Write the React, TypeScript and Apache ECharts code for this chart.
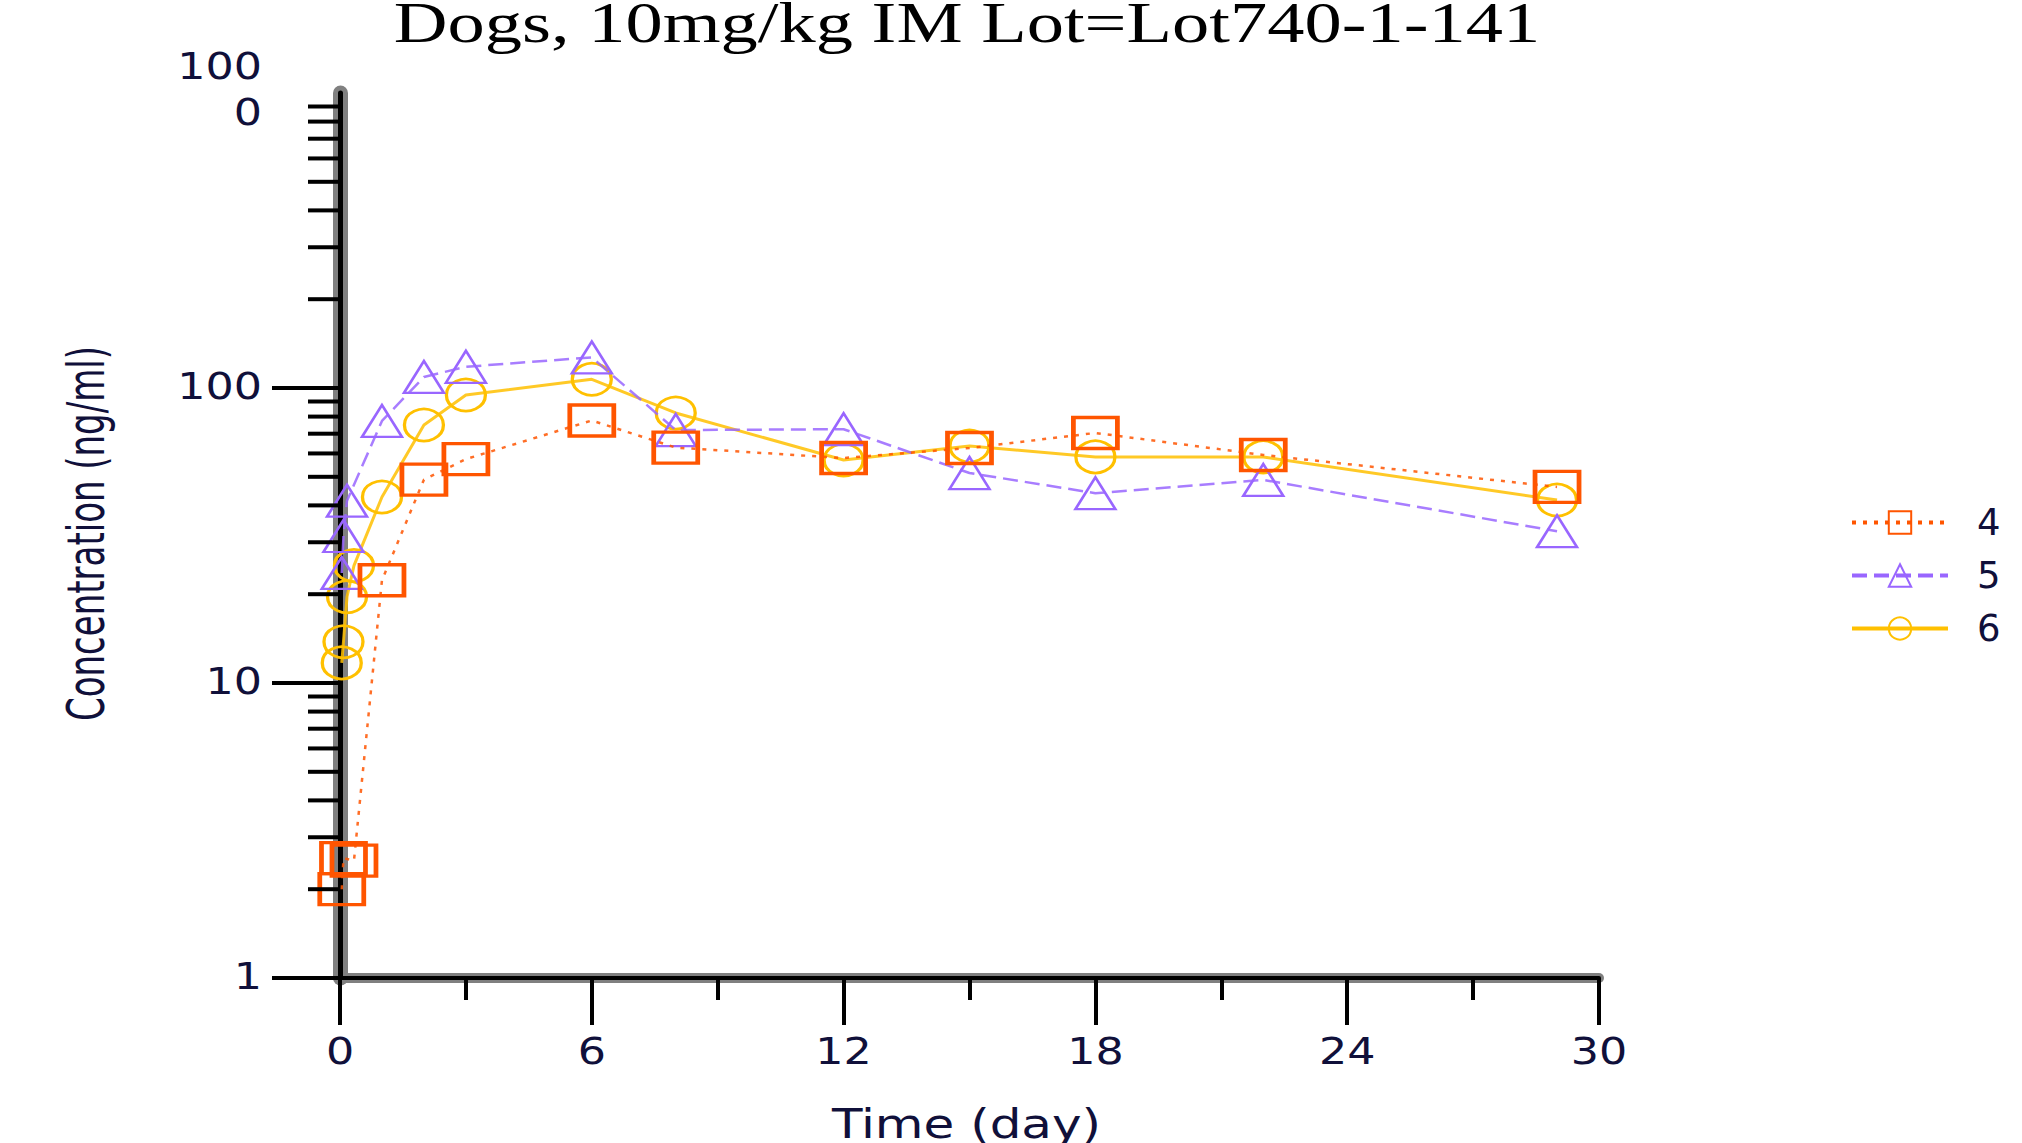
import React, { useEffect, useRef } from 'react';
import * as echarts from 'echarts';

const TITLE = 'Dogs, 10mg/kg IM Lot=Lot740-1-141';
const X_NAME = 'Time (day)';
const Y_NAME = 'Concentration (ng/ml)';

const X_MIN = 0;
const X_MAX = 30;
const X_INTERVAL = 6;
const X_TICK_LABELS = [0, 6, 12, 18, 24, 30];

const Y_MIN = 1;
const Y_MAX = 1000;
const Y_LABEL_VALUES = [1, 10, 100, 1000];
const Y_LABEL_TEXTS = ['1', '10', '100', '100\n0'];
const Y_MAJOR_TICKS = [1, 10, 100];
const Y_MINOR_TICKS = [2, 3, 4, 5, 6, 7, 8, 9, 20, 30, 40, 50, 60, 70, 80, 90, 200, 300, 400, 500, 600, 700, 800, 900];

const SERIES_NAMES = ['4', '5', '6'];
const SERIES_COLORS = ['#FF5500', '#9966FF', '#FFC000'];

const DOG4_DAYS = [0.042, 0.083, 0.333, 1, 2, 3, 6, 8, 12, 15, 18, 22, 29];
const DOG4_CONC = [2.0, 2.55, 2.5, 22.3, 48.9, 57.4, 77.6, 62.8, 57.9, 62.6, 70.4, 59.3, 46.2];

const DOG5_DAYS = [0.042, 0.083, 0.167, 1, 2, 3, 6, 8, 12, 15, 18, 22, 29];
const DOG5_CONC = [23.6, 31.5, 41.5, 77.3, 109, 118, 127, 72, 72.5, 51.5, 44, 48.8, 32.7];

const DOG6_DAYS = [0.042, 0.083, 0.167, 0.333, 1, 2, 3, 6, 8, 12, 15, 18, 22, 29];
const DOG6_CONC = [11.7, 13.8, 19.6, 25, 42.7, 74.9, 94.7, 107, 82.3, 57, 63.6, 58.4, 58.4, 41.7];

const TEXT_COLOR = '#10103a';
const SANS = '"DejaVu Sans", Verdana, sans-serif';
const SERIF = '"Liberation Serif", "Times New Roman", serif';

export default function App() {
  const ref = useRef<HTMLDivElement>(null);

  useEffect(() => {
    const el = ref.current;
    if (!el) return;
    const chart = echarts.init(el, null, { renderer: 'svg' });

    const makeSeries = (
      name: string,
      days: number[],
      conc: number[],
      color: string,
      symbol: string,
      size: number[],
      borderWidth: number,
      dash: any,
      lineWidth: number,
      z: number
    ) => ({
      name,
      type: 'line',
      xAxisIndex: 0,
      yAxisIndex: 0,
      data: days.map((d, i) => [d, conc[i]]),
      symbol,
      symbolSize: size,
      clip: false,
      z,
      itemStyle: { color: 'rgba(255,255,255,0)', borderColor: color, borderWidth },
      lineStyle: { color, width: lineWidth, type: dash, opacity: 0.85 },
      emphasis: { disabled: true },
    });

    chart.setOption({
      animation: false,
      backgroundColor: '#ffffff',
      grid: {
        left: 340,
        right: 423,
        top: 93,
        bottom: 165,
        containLabel: false,
        outerBoundsMode: 'none',
      },
      legend: {
        orient: 'vertical',
        left: 1845,
        top: 499,
        itemWidth: 96,
        itemHeight: 28,
        itemGap: 16,
        data: SERIES_NAMES,
        selectedMode: false,
        lineStyle: { width: 4, opacity: 1 },
        textStyle: { fontSize: 37, fontFamily: SANS, color: TEXT_COLOR, padding: [0, 0, 0, 24] },
      },
      xAxis: [
        {
          type: 'value',
          min: X_MIN,
          max: X_MAX,
          interval: X_INTERVAL,
          position: 'bottom',
          z: 0,
          axisLine: { onZero: false, lineStyle: { color: '#808080', width: 10 } },
          axisTick: { show: false },
          axisLabel: { show: false },
          splitLine: { show: false },
        },
        {
          type: 'value',
          min: X_MIN,
          max: X_MAX,
          interval: X_INTERVAL,
          position: 'bottom',
          z: 1,
          axisLine: { onZero: false, lineStyle: { color: '#000000', width: 4 } },
          axisTick: { show: true, length: 47, lineStyle: { color: '#000000', width: 4 } },
          minorTick: { show: true, splitNumber: 2, length: 22, lineStyle: { color: '#000000', width: 4 } },
          axisLabel: { show: false },
          splitLine: { show: false },
          minorSplitLine: { show: false },
        },
      ],
      yAxis: [
        {
          type: 'log',
          logBase: 10,
          min: Y_MIN,
          max: Y_MAX,
          position: 'left',
          z: 0,
          axisLine: { onZero: false, lineStyle: { color: '#808080', width: 15 } },
          axisTick: { show: false },
          axisLabel: { show: false },
          splitLine: { show: false },
        },
        {
          type: 'log',
          logBase: 10,
          min: Y_MIN,
          max: Y_MAX,
          position: 'left',
          z: 1,
          axisLine: { onZero: false, lineStyle: { color: '#000000', width: 5 } },
          axisTick: { show: false },
          axisLabel: { show: false },
          splitLine: { show: false },
        },
      ],
      series: [
        makeSeries(SERIES_NAMES[0], DOG4_DAYS, DOG4_CONC, SERIES_COLORS[0], 'rect', [44, 31], 4, [4, 7], 2.5, 4),
        makeSeries(SERIES_NAMES[1], DOG5_DAYS, DOG5_CONC, SERIES_COLORS[1], 'triangle', [40, 32], 2.5, [15, 7], 2.5, 3),
        makeSeries(SERIES_NAMES[2], DOG6_DAYS, DOG6_CONC, SERIES_COLORS[2], 'circle', [39, 32], 3, 'solid', 3, 2),
      ],
    });

    const toPx = (x: number, y: number) => chart.convertToPixel({ seriesIndex: 0 }, [x, y]) as number[];
    const origin = toPx(X_MIN, Y_MIN);
    const axisX = origin[0];
    const axisY = origin[1];
    const top = toPx(X_MIN, Y_MAX)[1];
    const right = toPx(X_MAX, Y_MIN)[0];

    const textStyle = (text: string, font: string, align: string, extra: any = {}) => ({
      text,
      font,
      fill: TEXT_COLOR,
      textAlign: align,
      align,
      textVerticalAlign: 'middle',
      verticalAlign: 'middle',
      ...extra,
    });

    const graphics: any[] = [];

    Y_MAJOR_TICKS.forEach((v) => {
      const y = toPx(X_MIN, v)[1];
      graphics.push({
        type: 'line',
        z: 5,
        shape: { x1: axisX - 68, y1: y, x2: axisX, y2: y },
        style: { stroke: '#000000', lineWidth: 4 },
      });
    });
    Y_MINOR_TICKS.forEach((v) => {
      const y = toPx(X_MIN, v)[1];
      graphics.push({
        type: 'line',
        z: 5,
        shape: { x1: axisX - 32, y1: y, x2: axisX, y2: y },
        style: { stroke: '#000000', lineWidth: 4 },
      });
    });

    Y_LABEL_VALUES.forEach((v, i) => {
      const y = toPx(X_MIN, v)[1];
      const isTop = v === Y_MAX;
      graphics.push({
        type: 'text',
        z: 6,
        x: axisX - 78,
        y: y - (isTop ? 4 : 2),
        scaleX: 1.2,
        style: textStyle(Y_LABEL_TEXTS[i], `37px ${SANS}`, 'right', { lineHeight: 46 }),
      });
    });

    X_TICK_LABELS.forEach((v) => {
      const x = toPx(v, Y_MIN)[0];
      graphics.push({
        type: 'text',
        z: 6,
        x,
        y: axisY + 73,
        scaleX: 1.2,
        style: textStyle(String(v), `37px ${SANS}`, 'center'),
      });
    });

    graphics.push({
      type: 'text',
      z: 6,
      x: (axisX + right) / 2 - 3,
      y: axisY + 146,
      scaleX: 1.25,
      style: textStyle(X_NAME, `40px ${SANS}`, 'center'),
    });

    graphics.push({
      type: 'text',
      z: 6,
      x: 86,
      y: (top + axisY) / 2 - 2,
      rotation: Math.PI / 2,
      scaleY: 1.5,
      style: textStyle(Y_NAME, `34px ${SANS}`, 'center'),
    });

    graphics.push({
      type: 'text',
      z: 6,
      x: 967,
      y: 23,
      scaleX: 1.33,
      style: { ...textStyle(TITLE, `56px ${SERIF}`, 'center'), fill: '#000000' },
    });

    chart.setOption({ graphic: graphics });

    return () => {
      chart.dispose();
    };
  }, []);

  return (
    <div
      ref={ref}
      style={{ position: 'fixed', left: 0, top: 0, width: 2022, height: 1143, background: '#ffffff' }}
    />
  );
}
